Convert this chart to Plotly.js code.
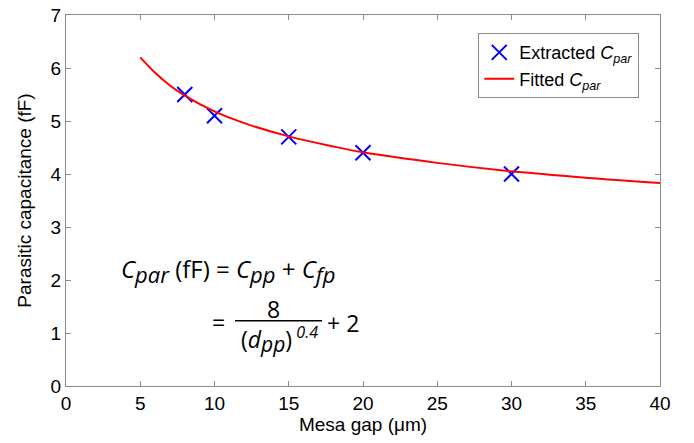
<!DOCTYPE html>
<html><head><meta charset="utf-8">
<script src="https://cdn.plot.ly/plotly-3.0.1.min.js"></script>
<style>html,body{margin:0;padding:0;background:#fff}#c{width:694px;height:443px}</style>
</head><body><div id="c"></div>
<script>
const gapExtracted = [8, 10, 15, 20, 30];
const cparExtracted = [5.5, 5.1, 4.7, 4.4, 4.0];
const gapFitted = [5, 6, 7, 8, 10, 12, 15, 18, 20, 25, 30, 35, 40];
const cparFitted = [6.2, 5.91, 5.67, 5.48, 5.18, 4.96, 4.71, 4.52, 4.41, 4.21, 4.05, 3.93, 3.83];
const xTicks = [0, 5, 10, 15, 20, 25, 30, 35, 40];
const yTicks = [0, 1, 2, 3, 4, 5, 6, 7];

const eqFont = {family: 'Open Sans, Liberation Sans, sans-serif', size: 23, color: '#000'};
const eqFont1 = {family: 'Open Sans, Liberation Sans, sans-serif', size: 24, color: '#000'};
const axFont = {family: 'Liberation Sans, Arial, sans-serif', size: 19, color: '#000'};
function sub(t, s) { return '<sub><i><span style="font-size:' + s + 'px">' + t + '</span></i></sub>'; }
const traces = [
  {x: gapExtracted, y: cparExtracted, mode: 'markers', type: 'scatter',
   name: 'Extracted <i>C</i><sub><i>par</i></sub>',
   marker: {symbol: 'x-thin', size: 15, line: {color: '#0000ff', width: 2}, color: '#0000ff'}},
  {x: gapFitted, y: cparFitted, mode: 'lines', type: 'scatter', line: {shape: 'spline', color: '#ff0000', width: 2},
   name: 'Fitted <i>C</i><sub><i>par</i></sub>'}
];
const axisCommon = {showgrid: false, zeroline: false, showline: true, linecolor: '#8c8c8c', linewidth: 1,
  mirror: 'ticks', ticks: 'inside', ticklen: 5, tickcolor: '#8c8c8c', tickfont: axFont};
const layout = {
  width: 694, height: 443, margin: {l: 66, r: 34, t: 15, b: 57},
  paper_bgcolor: '#fff', plot_bgcolor: '#fff', showlegend: true,
  legend: {x: 0.694, y: 0.951, xanchor: 'left', yanchor: 'top', bordercolor: '#8c8c8c', borderwidth: 1,
    bgcolor: '#fff', itemwidth: 30, tracegroupgap: 0,
    font: {family: 'Liberation Sans, Arial, sans-serif', size: 18, color: '#000'}},
  xaxis: Object.assign({}, axisCommon, {range: [0, 40], tickvals: xTicks,
    title: {text: 'Mesa gap (μm)', standoff: 4, font: axFont}}),
  yaxis: Object.assign({}, axisCommon, {range: [0, 7], tickvals: yTicks,
    title: {text: 'Parasitic capacitance (fF)', standoff: 13, font: axFont}}),
  shapes: [{type: 'line', xref: 'x', yref: 'y', x0: 11.38, x1: 17.24, y0: 1.23, y1: 1.23, line: {color: '#000', width: 1.5}}],
  annotations: [
    {x: 10.88, y: 2.18, xref: 'x', yref: 'y', yanchor: 'middle', showarrow: false, font: eqFont1,
     text: '<i>C</i>' + sub('par', 22) + ' (fF) = <i>C</i>' + sub('pp', 22) + ' + <i>C</i>' + sub('fp', 22)},
    {x: 10.24, y: 1.21, xref: 'x', yref: 'y', yanchor: 'middle', showarrow: false, font: eqFont, text: '='},
    {x: 13.94, y: 1.45, xref: 'x', yref: 'y', yanchor: 'middle', showarrow: false, font: eqFont, text: '8'},
    {x: 14.41, y: 0.87, xref: 'x', yref: 'y', yanchor: 'middle', showarrow: false, font: eqFont,
     text: '(<i>d</i>' + sub('pp', 21) + ')<sup><i> 0.4</i></sup>'},
    {x: 18.65, y: 1.19, xref: 'x', yref: 'y', yanchor: 'middle', showarrow: false, font: eqFont, text: '+ 2'}
  ]
};
Plotly.newPlot('c', traces, layout, {displayModeBar: false, staticPlot: true});
</script></body></html>
